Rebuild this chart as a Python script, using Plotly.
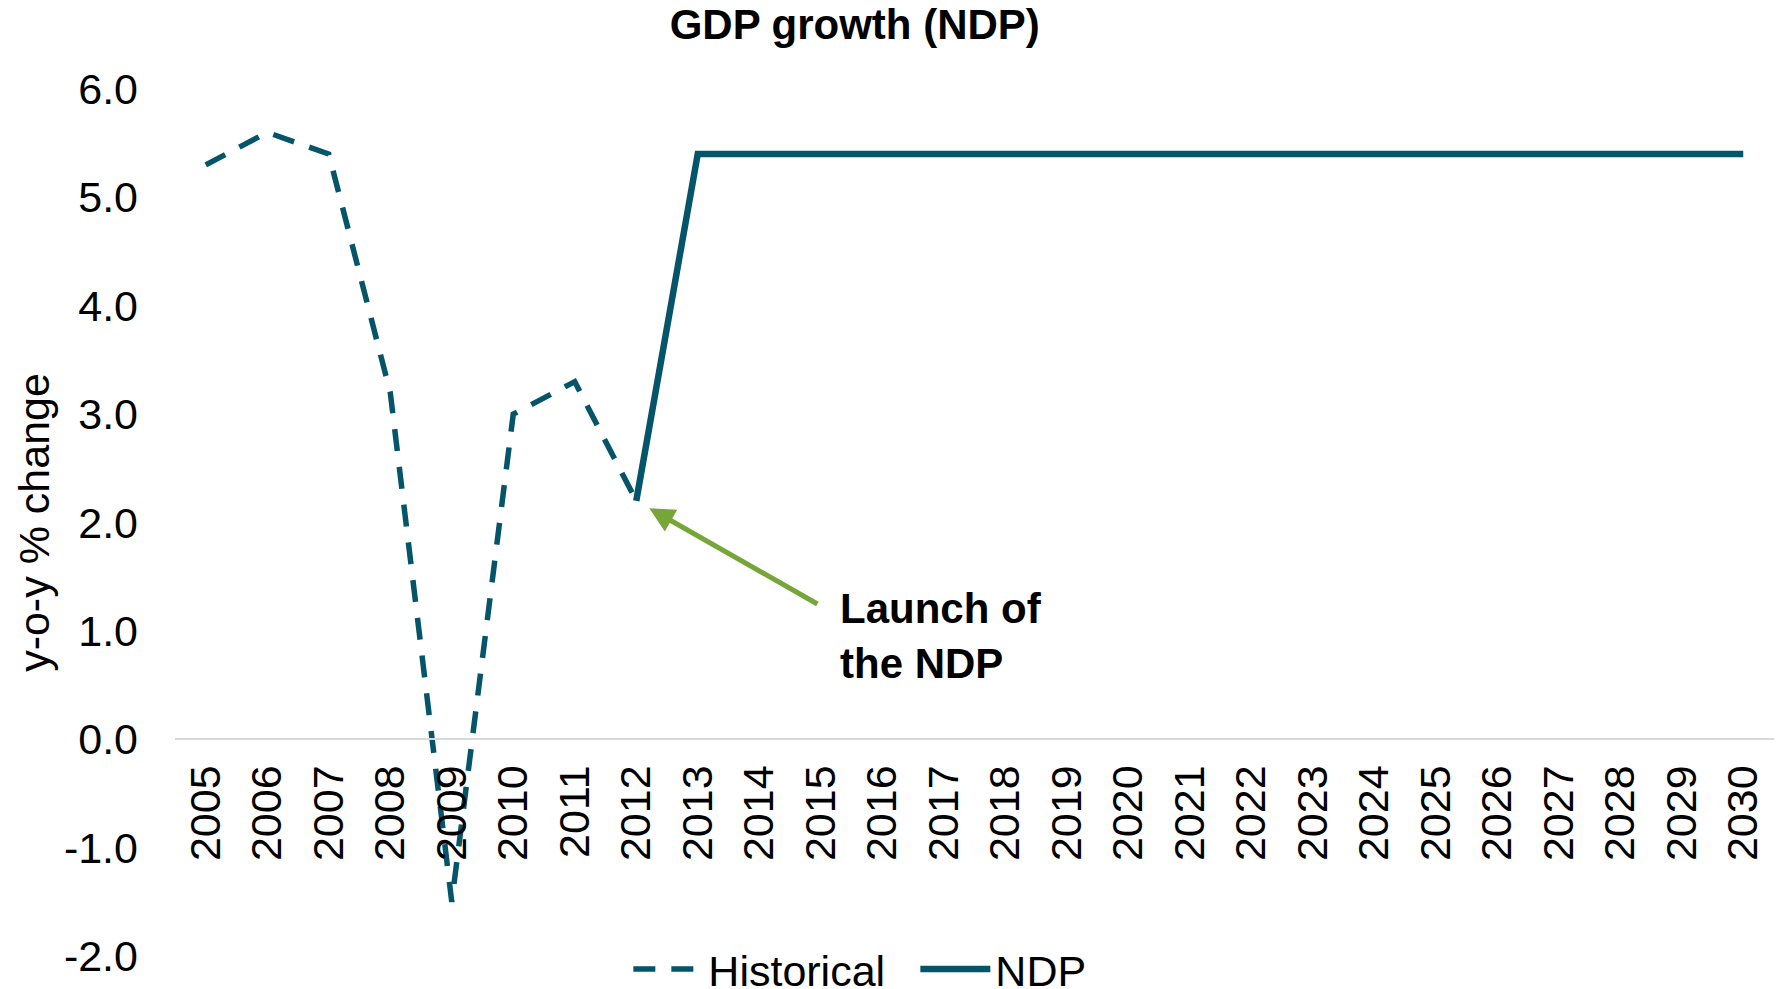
import plotly.graph_objects as go

# Annual GDP growth, y-o-y % change
hist_years = ["2005", "2006", "2007", "2008", "2009", "2010", "2011", "2012"]
hist_growth = [5.3, 5.6, 5.4, 3.2, -1.5, 3.0, 3.3, 2.2]

ndp_years = ["2012", "2013", "2014", "2015", "2016", "2017", "2018", "2019", "2020",
             "2021", "2022", "2023", "2024", "2025", "2026", "2027", "2028", "2029", "2030"]
ndp_growth = [2.2, 5.4, 5.4, 5.4, 5.4, 5.4, 5.4, 5.4, 5.4,
              5.4, 5.4, 5.4, 5.4, 5.4, 5.4, 5.4, 5.4, 5.4, 5.4]

all_years = ["2005", "2006", "2007", "2008", "2009", "2010", "2011", "2012", "2013",
             "2014", "2015", "2016", "2017", "2018", "2019", "2020", "2021", "2022",
             "2023", "2024", "2025", "2026", "2027", "2028", "2029", "2030"]

y_ticks = [-2, -1, 0, 1, 2, 3, 4, 5, 6]
y_tick_text = ["-2.0", "-1.0", "0.0", "1.0", "2.0", "3.0", "4.0", "5.0", "6.0"]

LINE = "#04546A"
ARROW = "#76A638"
FONT = "Arial, Liberation Sans, sans-serif"
SIZE = 43

launch_idx = all_years.index(ndp_years[0])

fig = go.Figure()
fig.add_trace(go.Scatter(
    x=hist_years, y=hist_growth, name="Historical", mode="lines",
    line=dict(color=LINE, width=5.5, dash="22px,16px"),
))
fig.add_trace(go.Scatter(
    x=ndp_years, y=ndp_growth, name="NDP", mode="lines",
    line=dict(color=LINE, width=6.5),
))

# Arrow pointing at the 2012 launch point (tail given in axis units)
fig.add_annotation(
    x=launch_idx, y=ndp_growth[0], xref="x", yref="y",
    ax=launch_idx + 2.97, ay=ndp_growth[0] - 0.96, axref="x", ayref="y",
    text="", showarrow=True, arrowhead=2, arrowsize=1.0,
    arrowwidth=5, arrowcolor=ARROW, standoff=15,
)
fig.add_annotation(
    x=10.28, y=0.955, xref="x", yref="y", xanchor="left", yanchor="middle",
    text="<b>Launch of<br>the NDP</b>", showarrow=False, align="left",
    font=dict(family=FONT, size=42, color="black"),
)

fig.update_layout(
    width=1777, height=989,
    paper_bgcolor="white", plot_bgcolor="white",
    margin=dict(l=175, r=3, t=89, b=33, autoexpand=False),
    font=dict(family=FONT, size=SIZE, color="black"),
    title=dict(text="<b>GDP growth (NDP)</b>", x=0.481, xanchor="center",
               y=0.975, yanchor="middle", font=dict(family=FONT, size=42, color="black")),
    showlegend=True,
    legend=dict(orientation="h", x=0.463, xanchor="center", y=-0.015, yanchor="middle",
                font=dict(family=FONT, size=SIZE, color="black"), itemwidth=70,
                entrywidth=202, bgcolor="rgba(0,0,0,0)"),
    xaxis=dict(
        type="category", categoryorder="array", categoryarray=all_years,
        range=[-0.5, len(all_years) - 0.5],
        anchor="free", position=0.25,
        showline=True, linecolor="#D9D9D9", linewidth=2,
        showgrid=False, zeroline=False, ticks="",
        tickangle=-90, ticklabelstandoff=8,
        tickfont=dict(family=FONT, size=SIZE, color="black"),
    ),
    yaxis=dict(
        range=[-2, 6], tickvals=y_ticks, ticktext=y_tick_text,
        showgrid=False, zeroline=False, showline=False, ticks="",
        ticklabelstandoff=36,
        tickfont=dict(family=FONT, size=SIZE, color="black"),
        title=dict(text="y-o-y % change", standoff=0,
                   font=dict(family=FONT, size=SIZE, color="black")),
    ),
)

fig.write_html("out.html")
